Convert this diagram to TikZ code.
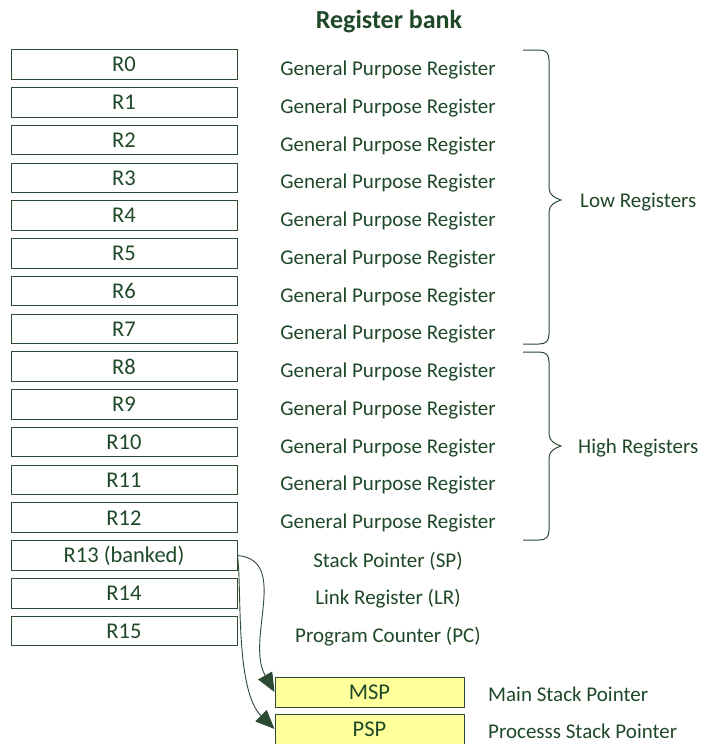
\documentclass[tikz,border=0pt]{standalone}
\usepackage{fontspec}
\setmainfont{Carlito}
\usetikzlibrary{arrows.meta}
\definecolor{dg}{RGB}{30,72,40}
\definecolor{bd}{RGB}{45,75,50}
\definecolor{yel}{RGB}{255,255,155}
\tikzset{
  reg/.style={draw=bd, line width=1pt, minimum width=226pt, minimum height=29.5pt, inner sep=0pt, text=dg, font=\fontsize{22.5}{24}\selectfont},
  sreg/.style={reg, fill=yel, minimum width=189pt, minimum height=30pt},
  desc/.style={text=dg, font=\fontsize{21}{23}\selectfont, inner sep=0pt},
  brc/.style={draw=bd, line width=1pt},
  conn/.style={draw=bd, line width=0.9pt, -{Triangle[length=19pt,width=16pt]}}
}
\begin{document}
\begin{tikzpicture}[x=1pt,y=-1pt]
\useasboundingbox (0,0) rectangle (703,744);
\node[text=dg, font=\fontsize{26}{28}\selectfont\bfseries] (title) at (389,21.5) {Register bank};
\foreach \i in {0,...,12} {
  \node[reg] (r\i) at (124,{64.5+37.77*\i}) {R\i};
  \node[desc] (d\i) at (388,{70+37.77*\i}) {General Purpose Register};
}
\node[reg] (r13) at (124,{64.5+37.77*13}) {R13 (banked)};
\node[reg] (r14) at (124,{64.5+37.77*14}) {R14};
\node[reg] (r15) at (124,{64.5+37.77*15}) {R15};
\node[desc] (d13) at (388,{70+37.77*13}) {Stack Pointer (SP)};
\node[desc] (d14) at (388,{70+37.77*14}) {Link Register (LR)};
\node[desc] (d15) at (388,{70+37.77*15}) {Program Counter (PC)};
% braces
\draw[brc] (523,50) -- (539,50) .. controls (546,50) and (549,53) .. (549,60) -- (549,188)
  .. controls (549,195) and (555,198) .. (561,200) .. controls (555,202) and (549,205) .. (549,212)
  -- (549,334) .. controls (549,341) and (546,344) .. (539,344) -- (523,344);
\draw[brc] (523,352) -- (539,352) .. controls (546,352) and (549,355) .. (549,362) -- (549,434)
  .. controls (549,441) and (555,444) .. (561,446) .. controls (555,448) and (549,451) .. (549,458)
  -- (549,530) .. controls (549,537) and (546,540) .. (539,540) -- (523,540);
\node[desc, anchor=west] (low) at (580,202) {Low Registers};
\node[desc, anchor=west] (high) at (578,448) {High Registers};
% stack pointers
\node[sreg] (msp) at (369.5,692) {MSP};
\node[sreg] (psp) at (369.5,729) {PSP};
\node[desc, anchor=west] (mspd) at (488,694) {Main Stack Pointer};
\node[desc, anchor=west] (pspd) at (488,731) {Processs Stack Pointer};
\draw[conn] (r13.east) .. controls (290,560) and (245,640) .. (msp.west);
\draw[conn] (r13.east) .. controls (242,590) and (235,690) .. (psp.west);
\end{tikzpicture}
\end{document}
